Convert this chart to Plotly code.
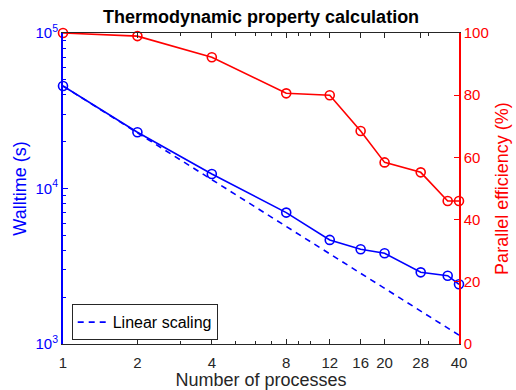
import plotly.graph_objects as go

processes = [1, 2, 4, 8, 12, 16, 20, 28, 36, 40]
walltime = [45600, 23000, 12400, 7000, 4670, 4065, 3830, 2890, 2750, 2420]
efficiency = [100, 99.0, 92.2, 80.6, 80.0, 68.5, 58.4, 55.2, 46.0, 46.0]
linear_x = [1, 40]
linear_y = [45600, 1140]

x_ticks = [1, 2, 4, 8, 12, 16, 20, 28, 40]
x_minor = [3, 5, 6, 7, 9, 10, 30]
y_ticks = [1e3, 1e4, 1e5]
y_ticktext = ["10<sup>3</sup>", "10<sup>4</sup>", "10<sup>5</sup>"]
y_minor = [2e3, 3e3, 4e3, 5e3, 6e3, 7e3, 8e3, 9e3, 2e4, 3e4, 4e4, 5e4, 6e4, 7e4, 8e4, 9e4]
y2_ticks = [0, 20, 40, 60, 80, 100]

BLUE = "#0000ff"
RED = "#ff0000"
DARK = "#262626"
FONT = "Liberation Sans, Arial, sans-serif"

fig = go.Figure()
fig.add_trace(go.Scatter(
    x=processes, y=walltime, mode="lines+markers", showlegend=False,
    line=dict(color=BLUE, width=1.6),
    marker=dict(symbol="circle-open", size=9, color=BLUE, line=dict(width=1.6)),
    cliponaxis=False))
fig.add_trace(go.Scatter(
    x=linear_x, y=linear_y, mode="lines", name="Linear scaling",
    line=dict(color=BLUE, width=1.6, dash="6px,5px")))
fig.add_trace(go.Scatter(
    x=processes, y=efficiency, mode="lines+markers", showlegend=False, yaxis="y2",
    line=dict(color=RED, width=1.6),
    marker=dict(symbol="circle-open", size=9, color=RED, line=dict(width=1.6)),
    cliponaxis=False))

fig.update_layout(
    width=516, height=390,
    margin=dict(l=63, r=57, t=33, b=46, autoexpand=False),
    paper_bgcolor="white", plot_bgcolor="white",
    font=dict(family=FONT, size=15, color=DARK),
    title=dict(text="<b>Thermodynamic property calculation</b>", x=0.506, xanchor="center",
               y=0.958, yanchor="middle", font=dict(size=18, color="black")),
    xaxis=dict(
        type="log", range=[0, 1.60206], tickvals=x_ticks, ticktext=[str(v) for v in x_ticks],
        ticks="inside", ticklen=5, tickcolor=DARK, showline=True, linecolor=DARK,
        linewidth=1.2, mirror="ticks", showgrid=False, zeroline=False, automargin=False,
        tickfont=dict(size=15, color=DARK), ticklabelstandoff=5,
        minor=dict(tickvals=x_minor, ticks="inside", ticklen=3, tickcolor=DARK),
        title=dict(text="Number of processes", font=dict(size=18, color=DARK), standoff=2)),
    yaxis=dict(
        type="log", range=[3, 5], tickvals=y_ticks, ticktext=y_ticktext,
        ticks="inside", ticklen=5, tickcolor=BLUE, showline=True, linecolor=BLUE,
        linewidth=2, showgrid=False, zeroline=False, automargin=False,
        tickfont=dict(size=15, color=BLUE),
        minor=dict(tickvals=y_minor, ticks="inside", ticklen=3, tickcolor=BLUE),
        title=dict(text="Walltime (s)", font=dict(size=18, color=BLUE), standoff=4)),
    yaxis2=dict(
        overlaying="y", side="right", range=[0, 100], tickvals=y2_ticks,
        ticks="inside", ticklen=5, tickcolor=RED, showline=True, linecolor=RED,
        linewidth=1.5, showgrid=False, zeroline=False, automargin=False,
        tickfont=dict(size=15, color=RED),
        title=dict(text="Parallel efficiency (%)", font=dict(size=18, color=RED), standoff=8)),
    legend=dict(x=0.022, y=0.012, xanchor="left", yanchor="bottom",
                bgcolor="white", bordercolor=DARK, borderwidth=1,
                font=dict(size=16, color="black"), itemwidth=30,
                tracegroupgap=0),
)
fig.write_html("out.html")
